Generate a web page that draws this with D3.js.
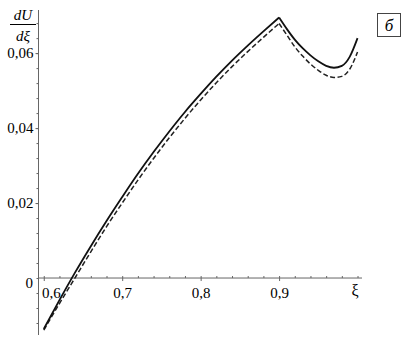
<!DOCTYPE html>
<html>
<head>
<meta charset="utf-8">
<script src="https://cdn.jsdelivr.net/npm/d3@7"></script>
<style>
  body { margin: 0; background: #fff; }
  text { font-family: 'Liberation Serif', 'Times New Roman', serif; }
</style>
</head>
<body>
<div id="chart"></div>
<script>
// DATOS
const xi = [0.60, 0.62, 0.64, 0.66, 0.68, 0.70, 0.72, 0.74, 0.76, 0.78, 0.80, 0.82, 0.84, 0.86, 0.88, 0.90,
            0.91, 0.92, 0.93, 0.94, 0.95, 0.96, 0.97, 0.98, 0.99, 1.00]
const solid = [-0.0136, -0.0059, 0.0015, 0.0085, 0.0152, 0.0216, 0.0278, 0.0336, 0.0391, 0.0443, 0.0491, 0.0537, 0.0580, 0.0620, 0.0658, 0.0695,
               0.0664, 0.0636, 0.0613, 0.0594, 0.0578, 0.0566, 0.0561, 0.0566, 0.0590, 0.0640]
const dashed = [-0.0139, -0.0068, 0.0001, 0.0070, 0.0137, 0.0200, 0.0261, 0.0319, 0.0374, 0.0426, 0.0475, 0.0521, 0.0564, 0.0604, 0.0642, 0.0679,
                0.0648, 0.0617, 0.0592, 0.0571, 0.0554, 0.0541, 0.0535, 0.0538, 0.0557, 0.0603]
const xTicks = [0.6, 0.7, 0.8, 0.9]
const yTicks = [0.02, 0.04, 0.06]
const peakXi = 0.90

// CTES
const width = 405
const height = 343
const serif = "'Liberation Serif', 'Times New Roman', serif"

const svg = d3.select("#chart").append("svg").attr("width", width).attr("height", height)

// ESCALAS
const x = d3.scaleLinear().domain([0.5933, 1.0057]).range([38.5, 362])
const y = d3.scaleLinear().domain([-0.0152, 0.0715]).range([335, 10])

const fmt = d => d3.format(".2f")(d).replace(".", ",")
const fmtX = d => d3.format(".1f")(d).replace(".", ",")
const axisColor = "#666"

// EJES
const xAxisGroup = svg.append("g").attr("transform", `translate(0, ${y(0)})`)
xAxisGroup.call(d3.axisBottom(x).tickValues(xTicks).tickFormat(fmtX).tickSize(3).tickPadding(6))
const xMinor = svg.append("g").attr("transform", `translate(0, ${y(0)})`)
xMinor.call(d3.axisTop(x).tickValues(d3.range(0.6, 1.0001, 0.02)).tickFormat("").tickSize(2))

const yAxisGroup = svg.append("g").attr("transform", `translate(${x(0.5933)}, 0)`)
yAxisGroup.call(d3.axisLeft(y).tickValues(yTicks).tickFormat(fmt).tickSize(3).tickPadding(2))
const yMinor = svg.append("g").attr("transform", `translate(${x(0.5933)}, 0)`)
yMinor.call(d3.axisLeft(y).tickValues(d3.range(-0.012, 0.0701, 0.004)).tickFormat("").tickSize(2))

svg.selectAll("g").attr("font-family", serif)
svg.selectAll(".domain").attr("stroke", axisColor)
svg.selectAll(".tick line").attr("stroke", axisColor)
svg.selectAll(".tick text").attr("fill", "#000").style("font-size", "15px").style("font-family", serif)

// la etiqueta 0,6 se corre a la derecha del eje
xAxisGroup.selectAll(".tick text").filter(d => d === 0.6).attr("dx", 7)
xAxisGroup.select(".domain").attr("d", `M${x(0.5933)},0H362`)
yAxisGroup.select(".domain").attr("d", `M0,${y(-0.0152)}V${y(0.0715)}`)
xMinor.select(".domain").remove()
yMinor.select(".domain").remove()

// "0" en el origen
svg.append("text").attr("x", 33).attr("y", y(0) + 10).attr("text-anchor", "end")
  .style("font-size", "15px").text("0")

// ξ
svg.append("text").attr("x", 355).attr("y", y(0) + 18).attr("text-anchor", "middle")
  .style("font-size", "16px").text("ξ")

// dU/dξ
svg.append("text").attr("x", 23).attr("y", 20).attr("text-anchor", "middle")
  .style("font-size", "15px").style("font-style", "italic").text("dU")
svg.append("line").attr("x1", 10).attr("x2", 36).attr("y1", 24.5).attr("y2", 24.5)
  .attr("stroke", "#000").attr("stroke-width", 1)
svg.append("text").attr("x", 23).attr("y", 41).attr("text-anchor", "middle")
  .style("font-size", "15px").style("font-style", "italic").text("dξ")

// recuadro б
svg.append("rect").attr("x", 377.5).attr("y", 13.5).attr("width", 23).attr("height", 23)
  .attr("fill", "none").attr("stroke", "#444").attr("stroke-width", 1)
svg.append("text").attr("x", 389).attr("y", 31).attr("text-anchor", "middle")
  .style("font-size", "17px").style("font-style", "italic").text("б")

// LINEAS (dos tramos, con pico agudo en 0,9)
const line = d3.line().x(d => x(d[0])).y(d => y(d[1])).curve(d3.curveMonotoneX)
const pieces = vals => {
  const pts = xi.map((v, i) => [v, vals[i]])
  return [pts.filter(p => p[0] <= peakXi), pts.filter(p => p[0] >= peakXi)]
}

svg.append("path").datum(pieces(dashed))
  .attr("d", d => line(d[0]) + line(d[1])).attr("fill", "none").attr("stroke", "#222")
  .attr("stroke-width", 1.5).attr("stroke-dasharray", "5,2.5")

svg.append("path").datum(pieces(solid))
  .attr("d", d => line(d[0]) + line(d[1])).attr("fill", "none").attr("stroke", "#111")
  .attr("stroke-width", 1.8).attr("stroke-linejoin", "miter")
</script>
</body>
</html>
